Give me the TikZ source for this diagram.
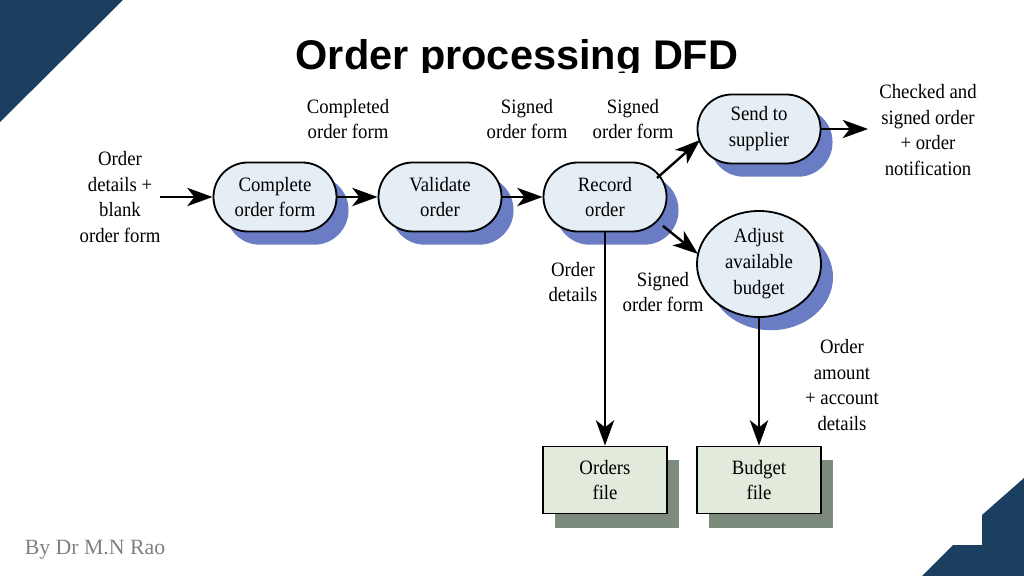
\documentclass[tikz,border=0pt]{standalone}
\usepackage{fontspec}
\setmainfont{Liberation Serif}
\newfontfamily\titlefont{Liberation Sans}
\newfontfamily\labfont[FakeStretch=0.92]{Liberation Serif}
\usetikzlibrary{arrows.meta,shadows,shapes.geometric}
\definecolor{navy}{HTML}{1B405F}
\definecolor{procfill}{HTML}{E6EEF5}
\definecolor{procshadow}{HTML}{6A7CC4}
\definecolor{filefill}{HTML}{E2EADC}
\definecolor{fileshadow}{HTML}{7D8B7C}
\definecolor{signgray}{HTML}{808080}
\tikzset{
  lab/.style={font=\labfont\fontsize{14.5}{18.4}\selectfont, align=center, inner sep=0pt},
  process/.style={draw=black, line width=1.3pt, fill=procfill, rounded corners=0.86cm,
    minimum width=3.075cm, minimum height=1.725cm, inner sep=0pt, lab,
    drop shadow={shadow xshift=0.3cm, shadow yshift=-0.33cm, fill=procshadow, opacity=1}},
  eprocess/.style={ellipse, draw=black, line width=1.3pt, fill=procfill,
    minimum width=3.1cm, minimum height=2.65cm, inner sep=0pt, lab,
    drop shadow={shadow xshift=0.3cm, shadow yshift=-0.33cm, fill=procshadow, opacity=1}},
  store/.style={draw=black, line width=1.3pt, fill=filefill,
    minimum width=3.1cm, minimum height=1.675cm, inner sep=0pt, lab,
    drop shadow={shadow xshift=0.3cm, shadow yshift=-0.35cm, fill=fileshadow, opacity=1}},
  flow/.style={line width=1.7pt, -{Stealth[length=18pt,width=13pt,inset=5pt]}},
}
\begin{document}
\begin{tikzpicture}[x=0.025cm, y=-0.025cm]
\fill[white] (0,0) rectangle (1024,576);
\useasboundingbox (0,0) rectangle (1024,576);
% corner decorations
\fill[navy] (0,0) -- (123,0) -- (0,122) -- cycle;
\fill[navy] (1024,478) -- (982,515) -- (982,545) -- (953,545) -- (922,576) -- (1024,576) -- cycle;
% title
\begin{scope}
\clip (0,0) rectangle (1024,73);
\node[font=\titlefont\bfseries\fontsize{29.5}{36}\selectfont, anchor=base, inner sep=0pt] (title) at (517,70) {Order processing DFD};
\end{scope}
% processes
\node[process] (comp) at (275,197) {Complete\\order form};
\node[process] (val) at (440,197) {Validate\\order};
\node[process] (rec) at (605,197) {Record\\order};
\node[process] (send) at (759,129) {Send to\\supplier};
\node[eprocess] (adj) at (759,264) {Adjust\\available\\budget};
% stores
\node[store] (ord) at (605,480) {Orders\\file};
\node[store] (bud) at (759,480) {Budget\\file};
% free ends
\coordinate (in) at (160,197);
\coordinate (out) at (868,129);
% flows
\draw[flow] (in) -- (comp.west);
\draw[flow] (comp.east) -- (val.west);
\draw[flow] (val.east) -- (rec.west);
\draw[flow] ([shift={(52,-19)}]rec.center) -- ([shift={(-59,11)}]send.center);
\draw[flow] ([shift={(58,29)}]rec.center) -- ([shift={(-61,-10)}]adj.center);
\draw[flow] (send.east) -- (out);
\draw[flow] (rec.south) -- (ord.north);
\draw[flow] (adj.south) -- (bud.north);
% labels
\node[lab] (l1) at (120,197) {Order\\details +\\blank\\order form};
\node[lab] (l2) at (348,119) {Completed\\order form};
\node[lab] (l3) at (527,119) {Signed\\order form};
\node[lab] (l4) at (633,119) {Signed\\order form};
\node[lab] (l5) at (928,130) {Checked and\\signed order\\+ order\\notification};
\node[lab] (l6) at (573,282) {Order\\details};
\node[lab] (l7) at (663,292) {Signed\\order form};
\node[lab] (l8) at (842,385) {Order\\amount\\+ account\\details};
% signature
\node[font=\fontsize{15.5}{18}\selectfont, text=signgray, inner sep=0pt] (sig) at (95,550) {By Dr M.N Rao};
\end{tikzpicture}
\end{document}
